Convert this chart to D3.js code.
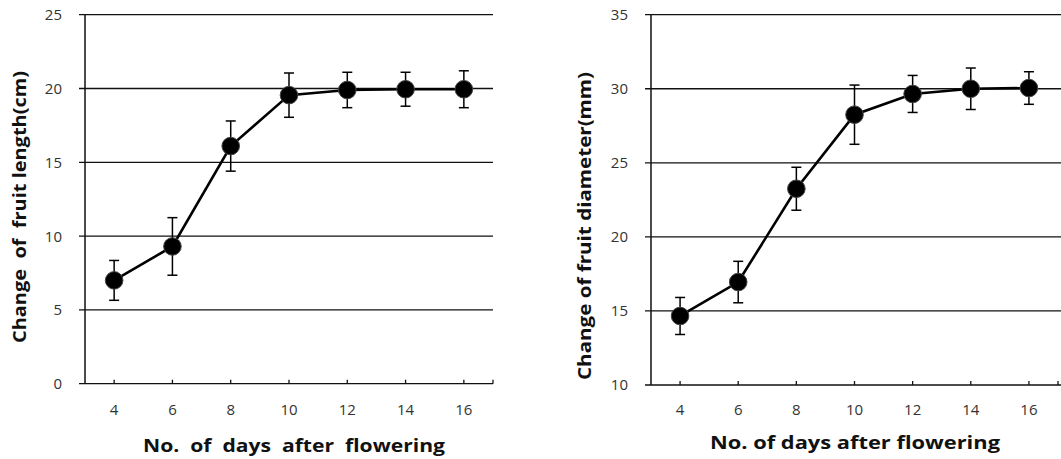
<!DOCTYPE html>
<html><head><meta charset="utf-8">
<script src="https://cdn.jsdelivr.net/npm/d3@7"></script>
<style>html,body{margin:0;padding:0;background:#fff;}svg{display:block;}</style>
</head><body>
<svg id="c" width="1061" height="459"></svg>
<script>
const days = [4, 6, 8, 10, 12, 14, 16];
const xTicks = [4, 6, 8, 10, 12, 14, 16];
const lengthMean = [7.0, 9.3, 16.1, 19.55, 19.9, 19.95, 19.95];
const lengthErr  = [1.35, 1.95, 1.7, 1.5, 1.2, 1.15, 1.25];
const diamMean = [14.66, 16.95, 23.25, 28.25, 29.65, 30.0, 30.05];
const diamErr  = [1.25, 1.4, 1.45, 2.0, 1.25, 1.4, 1.1];
const lengthTicks = [0, 5, 10, 15, 20, 25];
const diamTicks = [10, 15, 20, 25, 30, 35];

const svg = d3.select("#c");

function panel(o) {
  const g = svg.append("g");
  const x = d3.scaleLinear().domain([3, 17]).range([o.x0, o.x1]);
  const y = d3.scaleLinear().domain([o.yTicks[0], o.yTicks[o.yTicks.length-1]]).range([o.yb, o.yt]);

  // gridlines
  g.selectAll("line.grid").data(o.yTicks).enter().append("line")
    .attr("x1", o.x0 - 6).attr("x2", o.gx1)
    .attr("y1", d => y(d)).attr("y2", d => y(d))
    .attr("stroke", "#111").attr("stroke-width", 1.3);
  // y axis
  g.append("line").attr("x1", o.x0).attr("x2", o.x0).attr("y1", y.range()[1]).attr("y2", y.range()[0])
    .attr("stroke", "#111").attr("stroke-width", 1.5);
  // x axis ticks (inward)
  g.selectAll("line.xt").data(o.xTicks.concat([17])).enter().append("line")
    .attr("x1", d => x(d)).attr("x2", d => x(d))
    .attr("y1", o.yb).attr("y2", o.yb - 4)
    .attr("stroke", "#111").attr("stroke-width", 1.3);
  // y tick labels
  g.selectAll("text.yl").data(o.yTicks).enter().append("text")
    .attr("x", o.x0 - 23).attr("y", d => y(d)).attr("dy", "0.36em")
    .attr("text-anchor", "end").attr("font-family", "Open Sans").attr("font-size", 15)
    .attr("fill", "#333").text(d => d);
  // x tick labels
  g.selectAll("text.xl").data(o.xTicks).enter().append("text")
    .attr("x", d => x(d)).attr("y", 410).attr("dy", "0.36em")
    .attr("text-anchor", "middle").attr("font-family", "Open Sans").attr("font-size", 15)
    .attr("fill", "#333").text(d => d);
  // titles
  g.append("text").attr("x", o.xtx).attr("y", o.xty).attr("dy", "0.36em")
    .attr("text-anchor", "middle").attr("font-family", "Open Sans").attr("font-weight", "bold")
    .attr("font-size", 17).attr("fill", "#111")
    .attr("textLength", o.xtw).attr("lengthAdjust", "spacingAndGlyphs")
    .attr("xml:space", "preserve").text(o.xTitle);
  g.append("text").attr("transform", `translate(${o.ytx},${o.yty}) rotate(-90)`).attr("dy", "0.36em")
    .attr("text-anchor", "middle").attr("font-family", "Open Sans").attr("font-weight", "bold")
    .attr("font-size", 17).attr("fill", "#111")
    .attr("textLength", o.ytw).attr("lengthAdjust", "spacingAndGlyphs")
    .attr("xml:space", "preserve").text(o.yTitle);

  const pts = days.map((d, i) => ({d, m: o.mean[i], e: o.err[i]}));
  // error bars
  const eb = g.selectAll("g.eb").data(pts).enter().append("g")
    .attr("stroke", "#000").attr("stroke-width", 1.5);
  eb.append("line").attr("x1", p => x(p.d)).attr("x2", p => x(p.d))
    .attr("y1", p => y(p.m + p.e)).attr("y2", p => y(p.m - p.e));
  eb.append("line").attr("x1", p => x(p.d) - 5).attr("x2", p => x(p.d) + 5)
    .attr("y1", p => y(p.m + p.e)).attr("y2", p => y(p.m + p.e));
  eb.append("line").attr("x1", p => x(p.d) - 5).attr("x2", p => x(p.d) + 5)
    .attr("y1", p => y(p.m - p.e)).attr("y2", p => y(p.m - p.e));
  // line
  g.append("path").datum(pts)
    .attr("d", d3.line().x(p => x(p.d)).y(p => y(p.m)))
    .attr("fill", "none").attr("stroke", "#000").attr("stroke-width", 2.6);
  // markers
  g.selectAll("circle").data(pts).enter().append("circle")
    .attr("cx", p => x(p.d)).attr("cy", p => y(p.m)).attr("r", 8.8)
    .attr("fill", "#000").attr("stroke", "#444").attr("stroke-width", 1);
}

panel({x0: 85, x1: 493, gx1: 493, yb: 383.7, yt: 14.7, yTicks: lengthTicks, xTicks,
  mean: lengthMean, err: lengthErr,
  xTitle: "No.  of  days  after  flowering", xtx: 294, xty: 446, xtw: 302,
  yTitle: "Change  of  fruit length(cm)", ytx: 20, yty: 207, ytw: 272});
panel({x0: 651, x1: 1058, gx1: 1061, yb: 385, yt: 14.7, yTicks: diamTicks, xTicks,
  mean: diamMean, err: diamErr,
  xTitle: "No. of days after flowering", xtx: 855, xty: 443, xtw: 290,
  yTitle: "Change of fruit diameter(mm)", ytx: 585, yty: 226, ytw: 308});
</script>
</body></html>
